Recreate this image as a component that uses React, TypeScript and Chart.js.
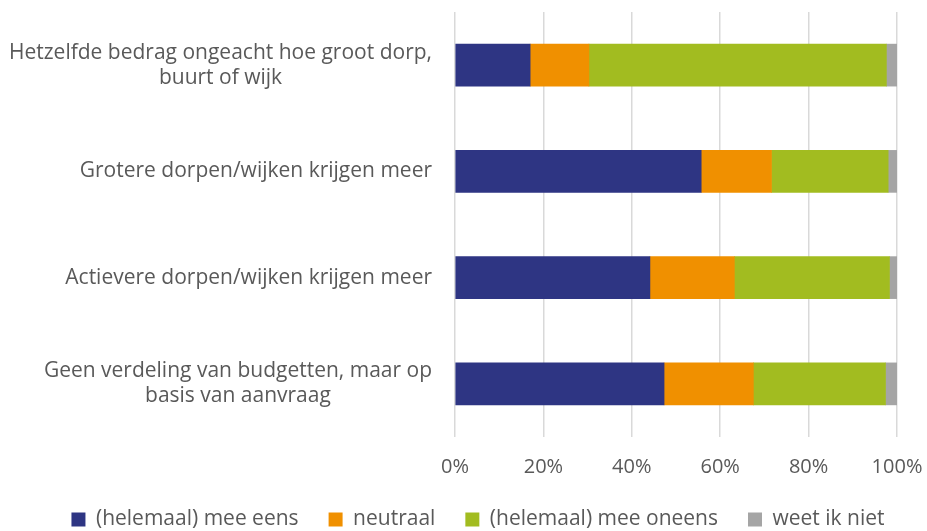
import React, { useEffect, useRef } from "react";
import { Chart, registerables } from "chart.js";

Chart.register(...registerables);

const categories: string[][] = [
  ["Hetzelfde bedrag ongeacht hoe groot dorp,", "buurt of wijk"],
  ["Grotere dorpen/wijken krijgen meer"],
  ["Actievere dorpen/wijken krijgen meer"],
  ["Geen verdeling van budgetten, maar op", "basis van aanvraag"],
];
const seriesNames = ["(helemaal) mee eens", "neutraal", "(helemaal) mee oneens", "weet ik niet"];
const meeEens = [17.0, 55.7, 44.1, 47.3];
const neutraal = [13.3, 15.9, 19.1, 20.2];
const meeOneens = [67.3, 26.4, 35.1, 29.9];
const weetIkNiet = [2.4, 2.0, 1.7, 2.6];
const tickValues = [0, 20, 40, 60, 80, 100];
const colors = ["#2E3583", "#F09000", "#A2BC20", "#A5A5A5"];

const TEXT = "#595959";
const FONT = '"Open Sans", sans-serif';
const Y_FONT_SIZE = 21;

const yLabelPlugin = {
  id: "yLabels",
  afterDraw(chart: any) {
    const ys = chart.scales.y;
    const ctx = chart.ctx;
    ctx.save();
    ctx.font = `${Y_FONT_SIZE}px ${FONT}`;
    ctx.fillStyle = TEXT;
    ctx.textAlign = "center";
    ctx.textBaseline = "middle";
    categories.forEach((lines, i) => {
      const yc = ys.getPixelForValue(i);
      const widest = Math.max(...lines.map((l) => ctx.measureText(l).width));
      const cx = chart.chartArea.left - 23 - widest / 2;
      lines.forEach((l, j) => {
        ctx.fillText(l, cx, yc + (j - (lines.length - 1) / 2) * 25);
      });
    });
    ctx.restore();
  },
};

export default function App() {
  const ref = useRef<HTMLCanvasElement>(null);
  useEffect(() => {
    if (!ref.current) return;
    const seriesValues = [meeEens, neutraal, meeOneens, weetIkNiet];
    const chart = new Chart(ref.current, {
      type: "bar",
      data: {
        labels: categories.map((c) => c.join(" ")),
        datasets: seriesNames.map((name, i) => ({
          label: name,
          data: seriesValues[i],
          backgroundColor: colors[i],
          borderWidth: 0,
          barThickness: 42,
        })),
      },
      options: {
        indexAxis: "y",
        animation: false,
        responsive: false,
        maintainAspectRatio: false,
        layout: { padding: { left: 20, right: 24, top: 12, bottom: 0 } },
        plugins: {
          tooltip: { enabled: false },
          legend: {
            position: "bottom",
            labels: {
              boxWidth: 14,
              boxHeight: 14,
              padding: 30,
              color: TEXT,
              font: { family: FONT, size: 21 },
            },
          },
        },
        scales: {
          x: {
            stacked: true,
            min: 0,
            max: 100,
            afterBuildTicks: (s: any) => {
              s.ticks = tickValues.map((v) => ({ value: v }));
            },
            afterFit: (s: any) => {
              s.paddingRight = 63;
              s.height = 42;
            },
            ticks: {
              color: TEXT,
              padding: 18,
              font: { family: FONT, size: 20 },
              callback: (v: any) => v + "%",
            },
            grid: { color: "#D9D9D9", lineWidth: 1.5, drawTicks: false },
            border: { display: false },
          },
          y: {
            stacked: true,
            ticks: { display: false },
            grid: { display: false },
            border: { display: false },
            afterFit: (s: any) => {
              s.width = 435;
            },
          },
        },
      },
      plugins: [yLabelPlugin],
    });
    return () => chart.destroy();
  }, []);
  return (
    <div style={{ position: "absolute", left: 0, top: 0, width: 927, height: 531, overflow: "hidden", background: "#fff" }}>
      <canvas ref={ref} width={960} height={540} />
    </div>
  );
}
